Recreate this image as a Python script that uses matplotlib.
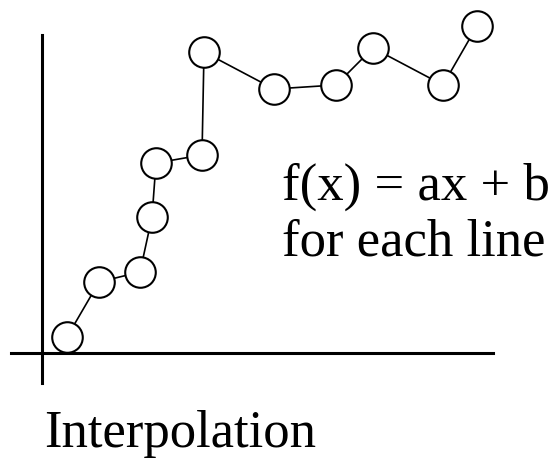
import matplotlib.pyplot as plt

# các điểm dữ liệu (đơn vị tùy ý, gốc tại giao điểm hai trục)
x = [2.5, 5.7, 9.8, 11.0, 11.4, 16.0, 16.2, 23.2, 29.4, 33.1, 40.1, 43.5]
y = [1.6, 7.1, 8.1, 13.6, 19.0, 19.8, 30.1, 26.4, 26.8, 30.5, 26.8, 32.7]

formula = "f(x) = ax + b\nfor each line"
title = "Interpolation"

fig = plt.figure(figsize=(5.53, 4.59), dpi=100)
ax = fig.add_axes([0, 0, 1, 1])
ax.set_xlim(-4.2, 51.1)
ax.set_ylim(-10.6, 35.3)

# trục tọa độ
ax.spines['top'].set_visible(False)
ax.spines['right'].set_visible(False)
ax.spines['left'].set_position(('data', 0))
ax.spines['bottom'].set_position(('data', 0))
ax.spines['left'].set_bounds(-3.0, 31.8)
ax.spines['bottom'].set_bounds(-3.1, 45.1)
for s in ['left', 'bottom']:
    ax.spines[s].set_linewidth(2.2)
ax.set_xticks([])
ax.set_yticks([])

# đường nội suy tuyến tính từng đoạn
ax.plot(x, y, color='black', lw=1.2, marker='o', ms=22, mfc='white',
        mec='black', mew=1.5, zorder=3)

# chú ý: va='baseline' canh theo dòng cuối
ax.text(24.0, 9.8, formula, fontsize=38, family='Liberation Serif',
        va='baseline', linespacing=1.18)
ax.text(0.2, -9.4, title, fontsize=38, family='Liberation Serif',
        va='baseline')

fig.savefig('out.png', dpi=100)
